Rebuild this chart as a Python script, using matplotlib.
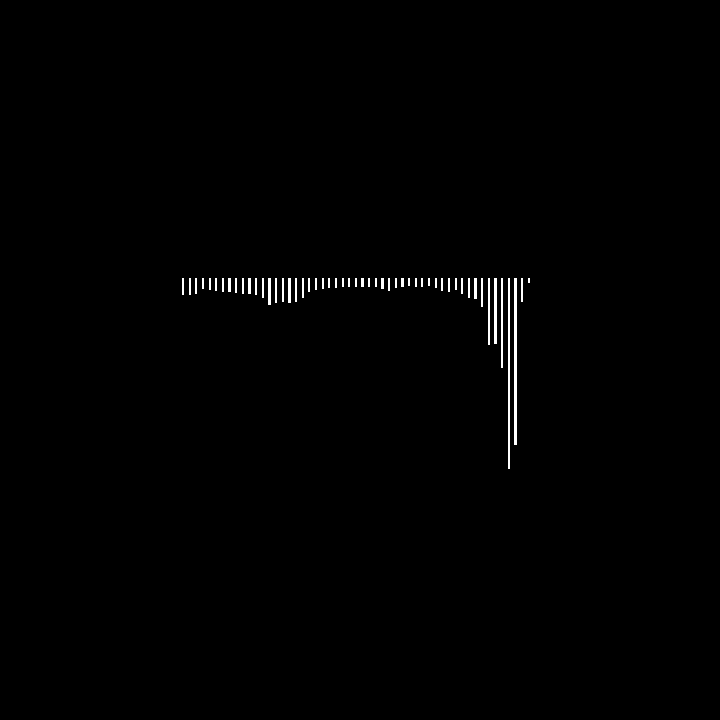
import matplotlib
matplotlib.use("Agg")
import matplotlib.pyplot as plt
import numpy as np

# bar lengths (bars hang down from a common top line)
values = [17, 17, 16, 11, 12, 13, 14, 14, 15, 16,
          16, 17, 20, 27, 25, 24, 25, 24, 20, 14,
          12, 11, 10, 10, 9, 9, 9, 9, 9, 9,
          11, 13, 10, 9, 8, 9, 9, 8, 10, 13,
          14, 12, 16, 20, 21, 29, 67, 66, 90, 191,
          167, 24, 5]
idx = np.arange(len(values))

fig = plt.figure(figsize=(7.2, 7.2), dpi=100, facecolor='black')
# axes spans bar centres 183..529 px, top line at y=278 px
left = (183 - 3.3) / 720
width = (528.8 + 3.3 - 179.7) / 720
ax = fig.add_axes([left, (720 - 478) / 720, width, 200 / 720])
ax.set_facecolor('black')
ax.bar(idx, values, width=0.33, color='white', align='center')
ax.set_xlim(-0.5, len(values) - 0.5)
ax.set_ylim(200, 0)
ax.axis('off')

fig.savefig('out.png', dpi=100, facecolor='black')
